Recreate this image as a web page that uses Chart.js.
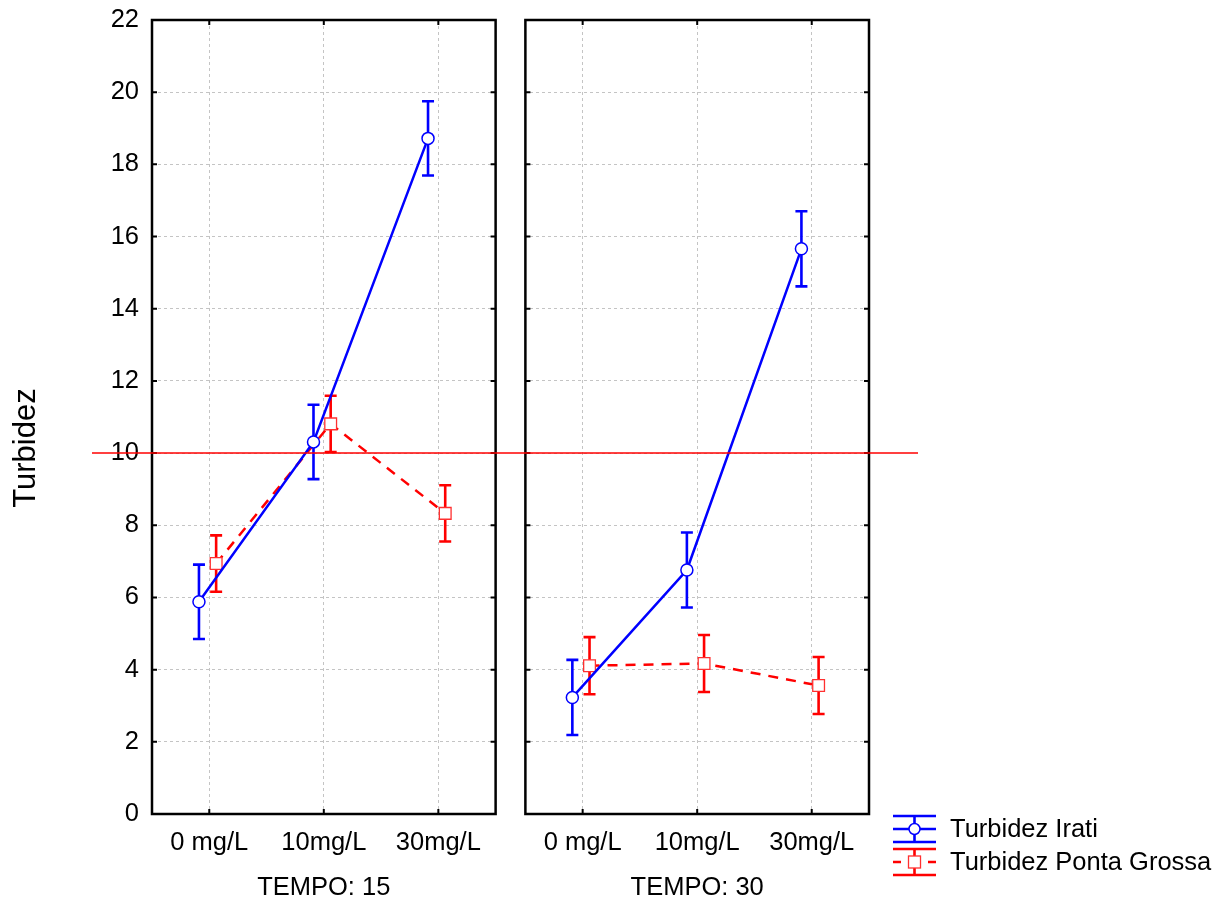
<!DOCTYPE html>
<html lang="pt">
<head>
<meta charset="UTF-8">
<title>Turbidez</title>
<script src="https://cdn.jsdelivr.net/npm/chart.js"></script>
<style>
  body { margin: 0; background: #fff; }
  #grafico { display: block; }
</style>
</head>
<body>
<canvas id="grafico" width="1232" height="910"></canvas>
<script>
// dados (médias e erro por dosagem)
const categorias = ['0 mg/L', '10mg/L', '30mg/L'];
const tempos = ['TEMPO: 15', 'TEMPO: 30'];
const iratiT15 = [5.88, 10.31, 18.72];
const iratiT30 = [3.23, 6.76, 15.66];
const pgT15 = [6.94, 10.81, 8.33];
const pgT30 = [4.11, 4.17, 3.56];
const erroIrati = [1.03, 1.04];
const erroPG = [0.78, 0.79];
const limite = 10;
const yTicks = [0, 2, 4, 6, 8, 10, 12, 14, 16, 18, 20, 22];

const FONTE = '"Liberation Sans", Arial, sans-serif';
const AZUL = '#0000ff';
const VERMELHO = '#ff0000';
const PAINEL2 = 3.26;   // deslocamento do segundo painel no eixo x
const posX = [0, 1, 2, PAINEL2, PAINEL2 + 1, PAINEL2 + 2];

// monta pontos {x,y} com um null entre os paineis para quebrar a linha
function serie(a, b, desloc, e) {
  const pts = a.map((v, i) => ({ x: i + desloc, y: v, e: e[0] }));
  pts.push({ x: 2.6, y: null });
  b.forEach((v, i) => pts.push({ x: PAINEL2 + i + desloc, y: v, e: e[1] }));
  return pts;
}

Chart.defaults.font.family = FONTE;
Chart.defaults.color = '#000';

const barrasErro = {
  id: 'barrasErro',
  beforeDatasetDraw(chart, args) {
    const ds = chart.data.datasets[args.index];
    const { ctx, scales: { x, y } } = chart;
    ctx.save();
    ctx.strokeStyle = ds.borderColor;
    ctx.lineWidth = 2.6;
    ds.data.forEach(p => {
      if (p.y == null) return;
      const px = x.getPixelForValue(p.x);
      const y1 = y.getPixelForValue(p.y + p.e), y2 = y.getPixelForValue(p.y - p.e);
      ctx.beginPath();
      ctx.moveTo(px, y1); ctx.lineTo(px, y2);
      ctx.moveTo(px - 6, y1); ctx.lineTo(px + 6, y1);
      ctx.moveTo(px - 6, y2); ctx.lineTo(px + 6, y2);
      ctx.stroke();
    });
    ctx.restore();
  }
};

const paineis = {
  id: 'paineis',
  beforeDatasetsDraw(chart) {
    const { ctx, chartArea: a, scales: { x } } = chart;
    // limpa o grid no espaço entre os dois paineis
    ctx.save();
    ctx.fillStyle = '#fff';
    const g1 = x.getPixelForValue(2.5), g2 = x.getPixelForValue(PAINEL2 - 0.5);
    ctx.fillRect(g1 + 1, a.top - 2, g2 - g1 - 2, a.bottom - a.top + 4);
    ctx.restore();
  },
  afterDatasetsDraw(chart) {
    const { ctx, chartArea: a, scales: { x, y } } = chart;
    ctx.save();
    ctx.strokeStyle = '#000';
    [[-0.5, 2.5], [PAINEL2 - 0.5, PAINEL2 + 2.5]].forEach(([lo, hi], k) => {
      const l = x.getPixelForValue(lo), r = x.getPixelForValue(hi);
      ctx.lineWidth = 2.5;
      ctx.strokeRect(l, a.top, r - l, a.bottom - a.top);
      // marcas internas
      ctx.lineWidth = 2;
      ctx.beginPath();
      yTicks.forEach(v => {
        const py = y.getPixelForValue(v);
        ctx.moveTo(l, py); ctx.lineTo(l + 5, py);
        ctx.moveTo(r, py); ctx.lineTo(r - 5, py);
      });
      [0, 1, 2].forEach(i => {
        const px = x.getPixelForValue(lo + 0.5 + i);
        ctx.moveTo(px, a.top); ctx.lineTo(px, a.top + 5);
        ctx.moveTo(px, a.bottom); ctx.lineTo(px, a.bottom - 5);
      });
      ctx.stroke();
      // rótulo do tempo
      ctx.fillStyle = '#000';
      ctx.font = '25.5px ' + FONTE;
      ctx.textAlign = 'center';
      ctx.textBaseline = 'middle';
      ctx.fillText(tempos[k], x.getPixelForValue(lo + 1.5), 888);
    });

    // linha de referência
    const py = y.getPixelForValue(limite);
    ctx.strokeStyle = VERMELHO;
    ctx.lineWidth = 1.5;
    ctx.beginPath();
    ctx.moveTo(92, py); ctx.lineTo(918, py);
    ctx.stroke();

    // título do eixo y
    ctx.save();
    ctx.translate(26, 448);
    ctx.rotate(-Math.PI / 2);
    ctx.font = '31px ' + FONTE;
    ctx.textAlign = 'center';
    ctx.textBaseline = 'middle';
    ctx.fillStyle = '#000';
    ctx.fillText('Turbidez', 0, 0);
    ctx.restore();

    // legenda
    const lx1 = 893, lx2 = 936, cx = 914.5;
    ctx.lineWidth = 2.6;
    ctx.strokeStyle = AZUL;
    ctx.beginPath();
    [816, 829, 842].forEach(yy => { ctx.moveTo(lx1, yy); ctx.lineTo(lx2, yy); });
    ctx.moveTo(cx, 816); ctx.lineTo(cx, 842);
    ctx.stroke();
    ctx.fillStyle = '#fff';
    ctx.lineWidth = 1.5;
    ctx.beginPath(); ctx.arc(cx, 829, 5.5, 0, Math.PI * 2); ctx.fill(); ctx.stroke();

    ctx.strokeStyle = VERMELHO;
    ctx.lineWidth = 2.6;
    ctx.beginPath();
    [849, 875].forEach(yy => { ctx.moveTo(lx1, yy); ctx.lineTo(lx2, yy); });
    ctx.moveTo(cx, 849); ctx.lineTo(cx, 875);
    ctx.moveTo(lx1, 862); ctx.lineTo(lx1 + 8, 862);
    ctx.moveTo(lx2 - 8, 862); ctx.lineTo(lx2, 862);
    ctx.stroke();
    ctx.lineWidth = 1.3;
    ctx.strokeStyle = '#ff3030';
    ctx.fillRect(cx - 6, 856, 12, 12);
    ctx.strokeRect(cx - 6, 856, 12, 12);

    ctx.fillStyle = '#000';
    ctx.font = '25.5px ' + FONTE;
    ctx.textAlign = 'left';
    ctx.textBaseline = 'middle';
    ctx.fillText('Turbidez Irati', 950, 830);
    ctx.fillText('Turbidez Ponta Grossa', 950, 863);
    ctx.restore();
  }
};

new Chart(document.getElementById('grafico'), {
  type: 'line',
  data: {
    datasets: [
      {
        label: 'Turbidez Irati',
        data: serie(iratiT15, iratiT30, -0.09, erroIrati),
        borderColor: AZUL, borderWidth: 2.5,
        pointStyle: 'circle', pointRadius: 6, pointBorderWidth: 1.5,
        pointBackgroundColor: '#fff', pointBorderColor: AZUL,
        spanGaps: false
      },
      {
        label: 'Turbidez Ponta Grossa',
        data: serie(pgT15, pgT30, 0.06, erroPG),
        borderColor: VERMELHO, borderWidth: 2.5, borderDash: [10, 8],
        pointStyle: 'rect', pointRadius: 8.3, pointBorderWidth: 1.3,
        pointBackgroundColor: '#fff', pointBorderColor: '#ff3030',
        spanGaps: false
      }
    ]
  },
  options: {
    responsive: false,
    animation: false,
    devicePixelRatio: 1,
    layout: { padding: { top: 20, right: 363, left: 0, bottom: 0 } },
    plugins: { legend: { display: false }, tooltip: { enabled: false } },
    scales: {
      x: {
        type: 'linear',
        min: -0.5, max: PAINEL2 + 2.5,
        afterFit: s => { s.height = 96; s.paddingLeft = 0; s.paddingRight = 0; },
        afterBuildTicks: s => { s.ticks = posX.map(v => ({ value: v })); },
        ticks: {
          font: { size: 25.5 }, padding: 14, maxRotation: 0, autoSkip: false,
          callback: (v, i) => categorias[i % 3]
        },
        grid: { color: '#c4c4c4', lineWidth: 1, drawTicks: false },
        border: { display: false, dash: [3, 3] }
      },
      y: {
        min: 0, max: 22,
        afterFit: s => { s.width = 152; s.paddingTop = 0; s.paddingBottom = 0; },
        afterBuildTicks: s => { s.ticks = yTicks.map(v => ({ value: v })); },
        ticks: { font: { size: 25.5 }, padding: 13 },
        grid: { color: '#c4c4c4', lineWidth: 1, drawTicks: false },
        border: { display: false, dash: [3, 3] }
      }
    }
  },
  plugins: [barrasErro, paineis]
});
</script>
</body>
</html>
